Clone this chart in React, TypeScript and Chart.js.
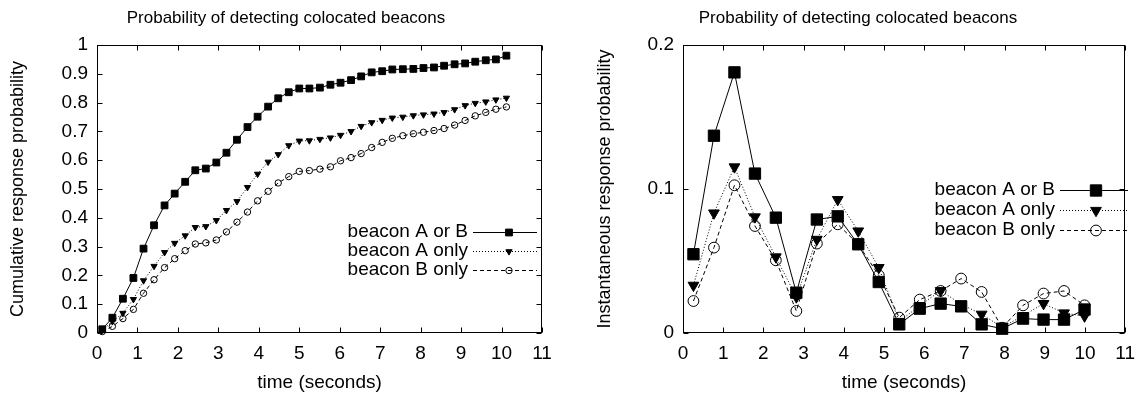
import React, { useEffect, useRef } from 'react';
import { Chart, registerables } from 'chart.js';
import { drawPoint } from 'chart.js/helpers';

Chart.register(...registerables);

const FONT = "'Liberation Sans', Arial, Helvetica, sans-serif";

// ---------- data ----------
const seriesLabels = ['beacon A or B', 'beacon A only', 'beacon B only'];
const chartTitle = 'Probability of detecting colocated beacons';
const xTitle = 'time (seconds)';
const leftYTitle = 'Cumulative response probability';
const rightYTitle = 'Instantaneous response probability';

const xTickValues = [0, 1, 2, 3, 4, 5, 6, 7, 8, 9, 10, 11];
const leftYTickValues = [0, 0.1, 0.2, 0.3, 0.4, 0.5, 0.6, 0.7, 0.8, 0.9, 1];
const rightYTickValues = [0, 0.1, 0.2];

const cumTime = [
  0.13, 0.38, 0.64, 0.9, 1.15, 1.41, 1.67, 1.92, 2.18, 2.43,
  2.69, 2.95, 3.2, 3.46, 3.72, 3.97, 4.23, 4.48, 4.74, 5.0,
  5.25, 5.51, 5.77, 6.02, 6.28, 6.53, 6.79, 7.05, 7.3, 7.56,
  7.82, 8.07, 8.33, 8.58, 8.84, 9.1, 9.35, 9.61, 9.86, 10.12,
];
const cumAorB = [
  0.013, 0.053, 0.119, 0.191, 0.293, 0.374, 0.443, 0.484, 0.525, 0.565,
  0.571, 0.592, 0.626, 0.671, 0.715, 0.751, 0.786, 0.815, 0.836, 0.849,
  0.849, 0.852, 0.862, 0.869, 0.878, 0.891, 0.905, 0.909, 0.915, 0.916,
  0.917, 0.92, 0.922, 0.928, 0.933, 0.936, 0.942, 0.947, 0.95, 0.963,
];
const cumAonly = [
  0.01, 0.04, 0.069, 0.117, 0.182, 0.232, 0.28, 0.312, 0.338, 0.367,
  0.37, 0.391, 0.426, 0.457, 0.506, 0.552, 0.594, 0.62, 0.651, 0.667,
  0.668, 0.673, 0.678, 0.687, 0.7, 0.718, 0.731, 0.739, 0.747, 0.75,
  0.755, 0.758, 0.761, 0.766, 0.776, 0.79, 0.798, 0.803, 0.81, 0.816,
];
const cumBonly = [
  0.005, 0.023, 0.05, 0.082, 0.138, 0.185, 0.227, 0.258, 0.286, 0.309,
  0.313, 0.323, 0.351, 0.385, 0.42, 0.459, 0.492, 0.521, 0.543, 0.561,
  0.564, 0.569, 0.577, 0.598, 0.609, 0.623, 0.644, 0.662, 0.676, 0.685,
  0.692, 0.697, 0.703, 0.71, 0.722, 0.738, 0.754, 0.766, 0.777, 0.785,
];

const instTime = [
  0.26, 0.77, 1.28, 1.79, 2.31, 2.82, 3.33, 3.85, 4.36, 4.87,
  5.38, 5.89, 6.41, 6.92, 7.43, 7.94, 8.46, 8.97, 9.48, 9.99,
];
const instAorB = [
  0.0547, 0.137, 0.181, 0.1107, 0.0801, 0.028, 0.0788, 0.081, 0.0616, 0.0354,
  0.006, 0.0169, 0.0204, 0.0185, 0.006, 0.003, 0.01, 0.0093, 0.0093, 0.0163,
];
const instAonly = [
  0.0331, 0.0833, 0.1153, 0.0806, 0.0528, 0.025, 0.065, 0.0926, 0.0708, 0.0454,
  0.008, 0.019, 0.0294, 0.02, 0.013, 0.004, 0.012, 0.0204, 0.0139, 0.0117,
];
const instBonly = [
  0.0222, 0.0593, 0.1026, 0.0743, 0.0505, 0.0153, 0.0621, 0.0755, 0.0616, 0.0401,
  0.0107, 0.0232, 0.0292, 0.0378, 0.0285, 0.0037, 0.0192, 0.0274, 0.0292, 0.0192,
];

// ---------- styles ----------
const markerStyles = [
  { pointStyle: 'rect', rotation: 0, fill: '#000', dash: [] as number[] },
  { pointStyle: 'triangle', rotation: 180, fill: '#000', dash: [1, 2] },
  { pointStyle: 'circle', rotation: 0, fill: 'rgba(0,0,0,0)', dash: [4, 3] },
];

type Spec = {
  times: number[];
  series: number[][];
  yMax: number;
  yTicks: number[];
  yTitle: string;
  yAxisWidth: number;
  rightPad: number;
  yTitlePad: number;
  radii: number[];
  legend: { textRight: number; lineStart: number; lineEnd: number; markerX: number; rows: number[] };
};

const frameTicksPlugin = {
  id: 'gnuFrame',
  beforeDatasetsDraw(chart: any) {
    const { ctx, chartArea: ca, scales } = chart;
    const L = Math.round(ca.left) + 0.5;
    const R = Math.round(ca.right) - 0.5;
    const T = Math.round(ca.top) + 0.5;
    const B = Math.round(ca.bottom) - 0.5;
    const tl = 5;
    ctx.save();
    ctx.strokeStyle = '#000';
    ctx.lineWidth = 1;
    ctx.setLineDash([]);
    ctx.beginPath();
    for (const t of scales.x.ticks) {
      const px = Math.round(scales.x.getPixelForValue(t.value)) + 0.5;
      ctx.moveTo(px, B);
      ctx.lineTo(px, B - tl);
      ctx.moveTo(px, T);
      ctx.lineTo(px, T + tl);
    }
    for (const t of scales.y.ticks) {
      const py = Math.round(scales.y.getPixelForValue(t.value)) + 0.5;
      ctx.moveTo(L, py);
      ctx.lineTo(L + tl, py);
      ctx.moveTo(R, py);
      ctx.lineTo(R - tl, py);
    }
    ctx.stroke();
    ctx.strokeRect(L, T, R - L, B - T);
    ctx.restore();
  },
};

const titlePlugin = {
  id: 'gnuTitle',
  afterDraw(chart: any) {
    const { ctx, width } = chart;
    ctx.save();
    ctx.font = `17px ${FONT}`;
    ctx.fillStyle = '#000';
    ctx.textAlign = 'center';
    ctx.textBaseline = 'middle';
    ctx.fillText(chartTitle, width / 2, 18);
    ctx.restore();
  },
};

const legendPlugin = {
  id: 'gnuLegend',
  afterDraw(chart: any) {
    const lg = chart.options.plugins.gnuLegend;
    if (!lg) return;
    const { ctx } = chart;
    ctx.save();
    chart.data.datasets.forEach((ds: any, i: number) => {
      const y = lg.rows[i];
      ctx.font = `19px ${FONT}`;
      ctx.fillStyle = '#000';
      ctx.textAlign = 'right';
      ctx.textBaseline = 'middle';
      ctx.fillText(ds.label, lg.textRight, y);
      ctx.strokeStyle = '#000';
      ctx.lineWidth = 1;
      ctx.setLineDash(ds.borderDash || []);
      ctx.beginPath();
      ctx.moveTo(lg.lineStart, Math.round(y) + 0.5);
      ctx.lineTo(lg.lineEnd, Math.round(y) + 0.5);
      ctx.stroke();
      ctx.setLineDash([]);
      ctx.fillStyle = ds.pointBackgroundColor;
      ctx.strokeStyle = '#000';
      drawPoint(ctx, {
        pointStyle: ds.pointStyle,
        rotation: ds.pointRotation,
        radius: ds.pointRadius,
        borderWidth: 1,
      } as any, lg.markerX, Math.round(y) + 0.5);
    });
    ctx.restore();
  },
};

function makeConfig(s: Spec): any {
  const datasets = s.series.map((vals, i) => {
    const st = markerStyles[i];
    return {
      label: seriesLabels[i],
      data: s.times.map((t, j) => ({ x: t, y: vals[j] })),
      borderColor: '#000',
      borderWidth: 1,
      borderDash: st.dash,
      backgroundColor: st.fill,
      pointBackgroundColor: st.fill,
      pointBorderColor: '#000',
      pointBorderWidth: 1,
      pointStyle: st.pointStyle,
      pointRotation: st.rotation,
      pointRadius: s.radii[i],
      pointHoverRadius: s.radii[i],
      tension: 0,
      fill: false,
      clip: false,
    };
  });
  return {
    type: 'line',
    data: { datasets },
    options: {
      animation: false,
      responsive: false,
      events: [],
      layout: { padding: { top: 45, right: s.rightPad, bottom: 0, left: 0 } },
      plugins: {
        legend: { display: false },
        tooltip: { enabled: false },
        title: { display: false },
        gnuLegend: s.legend,
      },
      scales: {
        x: {
          type: 'linear',
          min: 0,
          max: 11,
          afterBuildTicks: (sc: any) => {
            sc.ticks = xTickValues.map((v) => ({ value: v }));
          },
          afterFit: (sc: any) => {
            sc.height = 63;
          },
          grid: { display: false, drawTicks: false },
          border: { display: false },
          ticks: {
            padding: 9,
            color: '#000',
            font: { family: FONT, size: 19 },
            maxRotation: 0,
            autoSkip: false,
            callback: (v: any) => String(v),
          },
          title: {
            display: true,
            text: xTitle,
            color: '#000',
            font: { family: FONT, size: 19 },
            padding: { top: 0, bottom: 1.5 },
          },
        },
        y: {
          type: 'linear',
          min: 0,
          max: s.yMax,
          afterBuildTicks: (sc: any) => {
            sc.ticks = s.yTicks.map((v) => ({ value: v }));
          },
          afterFit: (sc: any) => {
            sc.width = s.yAxisWidth;
          },
          grid: { display: false, drawTicks: false },
          border: { display: false },
          ticks: {
            padding: 9,
            color: '#000',
            font: { family: FONT, size: 19 },
            autoSkip: false,
            callback: (v: any) => String(v),
          },
          title: {
            display: true,
            text: s.yTitle,
            color: '#000',
            font: { family: FONT, size: 18 },
            padding: { top: s.yTitlePad, bottom: 0 },
          },
        },
      },
    },
    plugins: [frameTicksPlugin, titlePlugin, legendPlugin],
  };
}

const leftSpec: Spec = {
  times: cumTime,
  series: [cumAorB, cumAonly, cumBonly],
  yMax: 1,
  yTicks: leftYTickValues,
  yTitle: leftYTitle,
  yAxisWidth: 97,
  rightPad: 30,
  yTitlePad: 7,
  radii: [4.8, 3.6, 3.2],
  legend: { textRight: 468, lineStart: 473, lineEnd: 537, markerX: 509, rows: [232, 251, 270] },
};

const rightSpec: Spec = {
  times: instTime,
  series: [instAorB, instAonly, instBonly],
  yMax: 0.2,
  yTicks: rightYTickValues,
  yTitle: rightYTitle,
  yAxisWidth: 111,
  rightPad: 16,
  yTitlePad: 22,
  radii: [8, 6.2, 5.4],
  legend: { textRight: 483, lineStart: 488, lineEnd: 556, markerX: 524, rows: [189.5, 209.5, 229.5] },
};

function GnuPlot({ spec }: { spec: Spec }) {
  const ref = useRef<HTMLCanvasElement | null>(null);
  useEffect(() => {
    if (!ref.current) return;
    const chart = new Chart(ref.current, makeConfig(spec));
    return () => chart.destroy();
  }, [spec]);
  return (
    <canvas
      ref={ref}
      width={572}
      height={396}
      style={{ display: 'block', width: 572, height: 396 }}
    />
  );
}

export default function App() {
  return (
    <div
      style={{
        position: 'absolute',
        left: 0,
        top: 0,
        width: 1144,
        height: 396,
        display: 'flex',
        background: '#fff',
      }}
    >
      <GnuPlot spec={leftSpec} />
      <GnuPlot spec={rightSpec} />
    </div>
  );
}
